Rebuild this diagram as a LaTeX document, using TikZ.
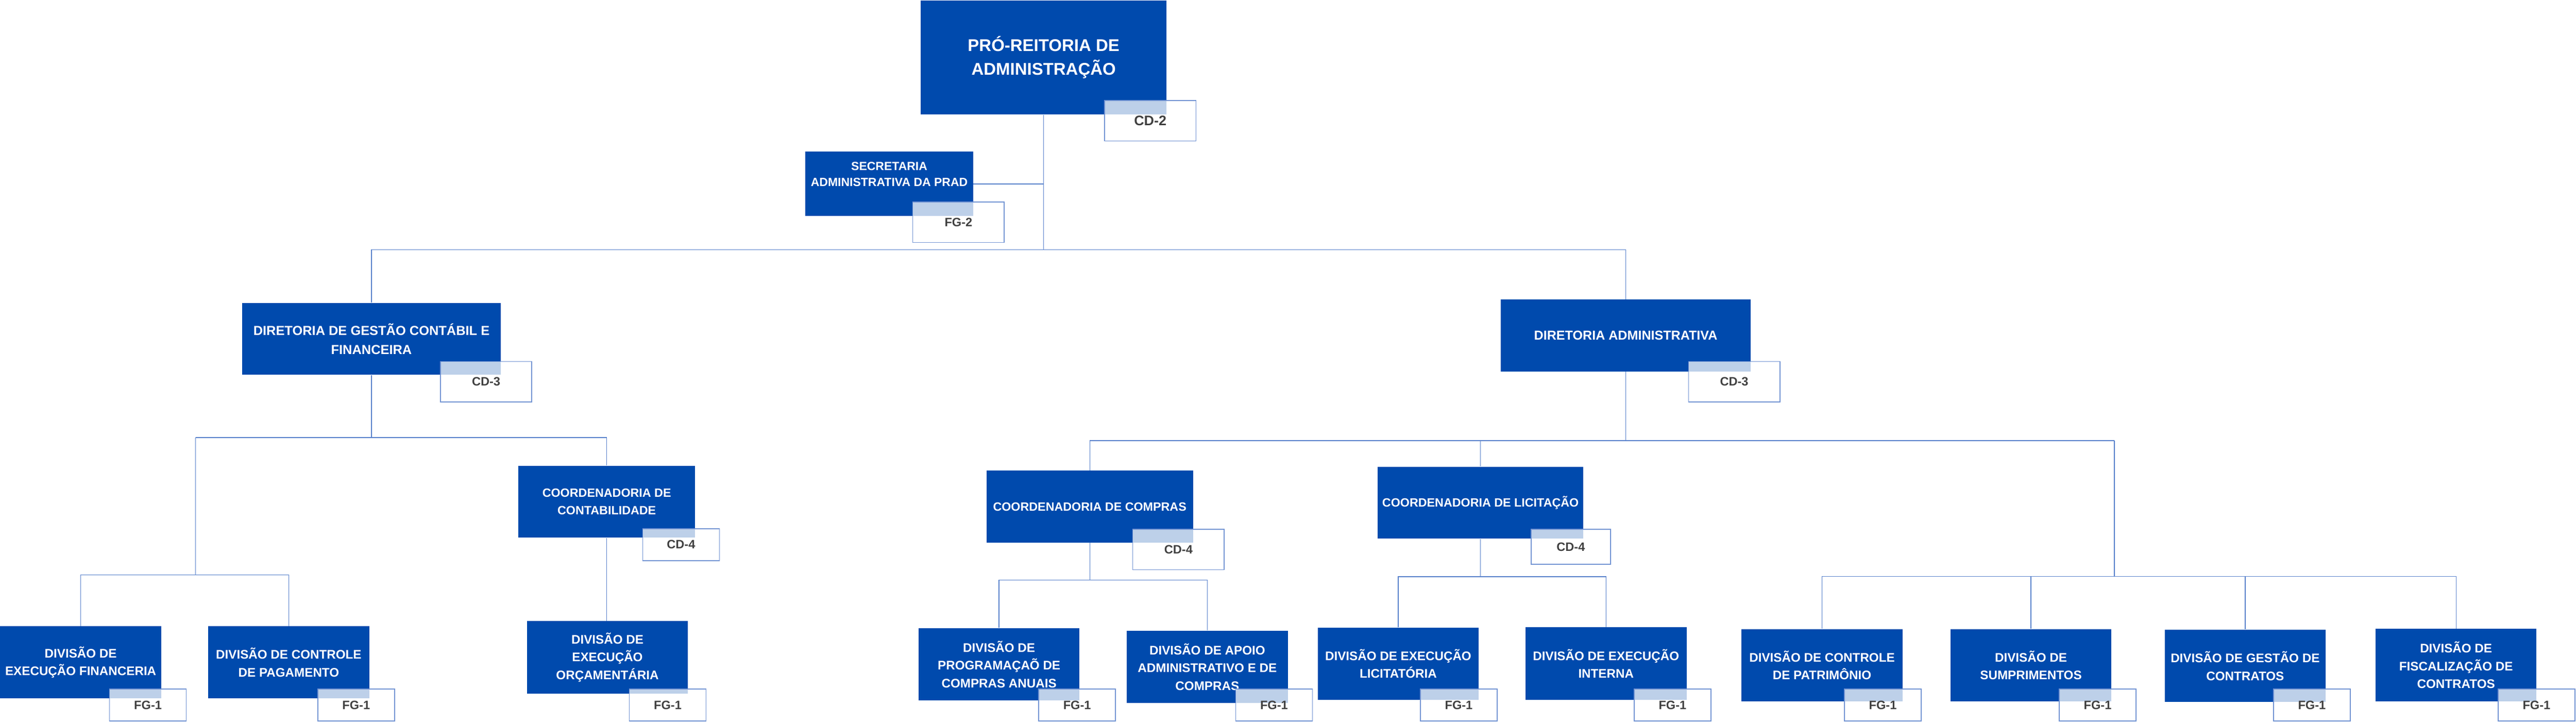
\documentclass[tikz,border=0pt]{standalone}
\usepackage{fontspec}
\setmainfont{Liberation Sans}

\definecolor{boxblue}{RGB}{0,74,173}
\definecolor{linkblue}{RGB}{84,126,202}
\definecolor{tagline}{RGB}{112,146,210}
\definecolor{tagtext}{RGB}{64,64,64}

\begin{document}
\begin{tikzpicture}[
	orgbox/.style={rectangle, fill=boxblue, text=white, align=center, inner sep=0pt,
		font=\bfseries\fontsize{7.7}{11.4}\selectfont},
	divbox/.style={orgbox, minimum width=3.63cm, minimum height=1.63cm,
		font=\bfseries\fontsize{8}{11.4}\selectfont},
	tagbox/.style={rectangle, draw=tagline, line width=0.5pt, fill=white, fill opacity=0.74,
		text opacity=1, text=tagtext, inner sep=0pt, font=\bfseries\fontsize{7.8}{9}\selectfont},
	bigtag/.style={tagbox, minimum width=2.06cm, minimum height=0.91cm},
	fgtag/.style={tagbox, minimum width=1.73cm, minimum height=0.72cm},
	link/.style={draw=linkblue, line width=0.45pt}
	]
	
	\fill[white] (0,0) rectangle (58.08,-16.27);
	\useasboundingbox (0,0) rectangle (58.08,-16.27);
	
	% top
	\node[orgbox, minimum width=5.54cm, minimum height=2.57cm,
		font=\bfseries\fontsize{10.9}{15.4}\selectfont] (pro) at (23.53,-1.295) {PRÓ-REITORIA DE\\ADMINISTRAÇÃO};
	\node[orgbox, minimum width=3.78cm, minimum height=1.45cm,
		font=\bfseries\fontsize{7.6}{10.3}\selectfont] (sec) at (20.05,-4.145) {SECRETARIA\\ADMINISTRATIVA DA PRAD\\[0.5ex]};
	
	% diretorias
	\node[orgbox, minimum width=5.83cm, minimum height=1.62cm,
		font=\bfseries\fontsize{8.4}{12}\selectfont] (dgcf) at (8.375,-7.64) {DIRETORIA DE GESTÃO CONTÁBIL E\\FINANCEIRA};
	\node[orgbox, minimum width=5.63cm, minimum height=1.62cm,
		font=\bfseries\fontsize{8.3}{12}\selectfont] (da) at (36.655,-7.56) {DIRETORIA ADMINISTRATIVA};
	
	% coordenadorias
	\node[orgbox, minimum width=3.98cm, minimum height=1.62cm] (cc) at (13.68,-11.31) {COORDENADORIA DE\\CONTABILIDADE};
	\node[orgbox, minimum width=4.66cm, minimum height=1.62cm] (ccomp) at (24.57,-11.42) {COORDENADORIA DE COMPRAS};
	\node[orgbox, minimum width=4.64cm, minimum height=1.62cm] (clic) at (33.38,-11.33) {COORDENADORIA DE LICITAÇÃO};
	
	% divisoes
	\node[divbox] (def) at (1.82,-14.93) {DIVISÃO DE\\EXECUÇÃO FINANCERIA};
	\node[divbox] (dcp) at (6.51,-14.93) {DIVISÃO DE CONTROLE\\DE PAGAMENTO};
	\node[divbox] (deo) at (13.695,-14.815) {DIVISÃO DE\\EXECUÇÃO\\ORÇAMENTÁRIA};
	\node[divbox] (dpca) at (22.525,-14.975) {DIVISÃO DE\\PROGRAMAÇAÕ DE\\COMPRAS ANUAIS};
	\node[divbox] (daac) at (27.22,-15.03) {DIVISÃO DE APOIO\\ADMINISTRATIVO E DE\\COMPRAS};
	\node[divbox] (del) at (31.525,-14.96) {DIVISÃO DE EXECUÇÃO\\LICITATÓRIA};
	\node[divbox] (dei) at (36.21,-14.955) {DIVISÃO DE EXECUÇÃO\\INTERNA};
	\node[divbox] (dcpat) at (41.08,-14.995) {DIVISÃO DE CONTROLE\\DE PATRIMÔNIO};
	\node[divbox] (dsup) at (45.79,-14.995) {DIVISÃO DE\\SUMPRIMENTOS};
	\node[divbox] (dgc) at (50.62,-15.01) {DIVISÃO DE GESTÃO DE\\CONTRATOS};
	\node[divbox] (dfc) at (55.375,-14.99) {DIVISÃO DE\\FISCALIZAÇÃO DE\\CONTRATOS};
	
	% cargos
	\node[bigtag, font=\bfseries\fontsize{8.9}{10}\selectfont] (cd2) at (25.935,-2.72) {CD-2};
	\node[bigtag] (fg2) at (21.61,-5.01) {FG-2};
	\node[bigtag] (cd3a) at (10.96,-8.605) {CD-3};
	\node[bigtag] (cd3b) at (39.10,-8.605) {CD-3};
	\node[fgtag] (cd4a) at (15.355,-12.275) {CD-4};
	\node[bigtag] (cd4b) at (26.57,-12.385) {CD-4};
	\node[tagbox, minimum width=1.79cm, minimum height=0.79cm] (cd4c) at (35.415,-12.325) {CD-4};
	
	\foreach \x/\n in {3.335/def,8.03/dcp,15.055/deo,24.285/dpca,28.725/daac,32.89/del,37.71/dei,42.45/dcpat,47.295/dsup,52.125/dgc,57.19/dfc}
	\node[fgtag] (fg-\n) at (\x,-15.89) {FG-1};
	
	% ligacoes
	\coordinate (bar0) at (0,-5.63);
	\coordinate (bar1) at (4.41,-9.86);
	\coordinate (bar2) at (0,-12.96);
	\coordinate (bar3) at (47.67,-9.93);
	\coordinate (bar4) at (0,-12.99);
	\coordinate (bar5) at (0,-13.07);
	\coordinate (bar6) at (0,-13.00);
	
	\draw[link] (pro.south) -- (pro.south |- bar0);
	\draw[link] (sec.east) -- (sec.east -| pro.south);
	\draw[link] (dgcf.north) |- (da.north |- bar0) -- (da.north);
	
	\draw[link] (dgcf.south) -- (dgcf.south |- bar1);
	\draw[link] (bar1) -| (cc.north);
	\draw[link] (bar1) -- (bar1 |- bar2);
	\draw[link] (def.north) |- (dcp.north |- bar2) -- (dcp.north);
	\draw[link] (cc.south) -- (cc.south |- deo.north);
	
	\draw[link] (da.south) -- (da.south |- bar3);
	\draw[link] (ccomp.north) |- (bar3);
	\draw[link] (clic.north) -- (clic.north |- bar3);
	\draw[link] (bar3) -- (bar3 |- bar4);
	\draw[link] (dcpat.north) |- (dfc.north |- bar4) -- (dfc.north);
	\draw[link] (dsup.north) -- (dsup.north |- bar4);
	\draw[link] (dgc.north) -- (dgc.north |- bar4);
	
	\draw[link] (ccomp.south) -- (ccomp.south |- bar5);
	\draw[link] (dpca.north) |- (daac.north |- bar5) -- (daac.north);
	\draw[link] (clic.south) -- (clic.south |- bar6);
	\draw[link] (del.north) |- (dei.north |- bar6) -- (dei.north);
	
\end{tikzpicture}
\end{document}
